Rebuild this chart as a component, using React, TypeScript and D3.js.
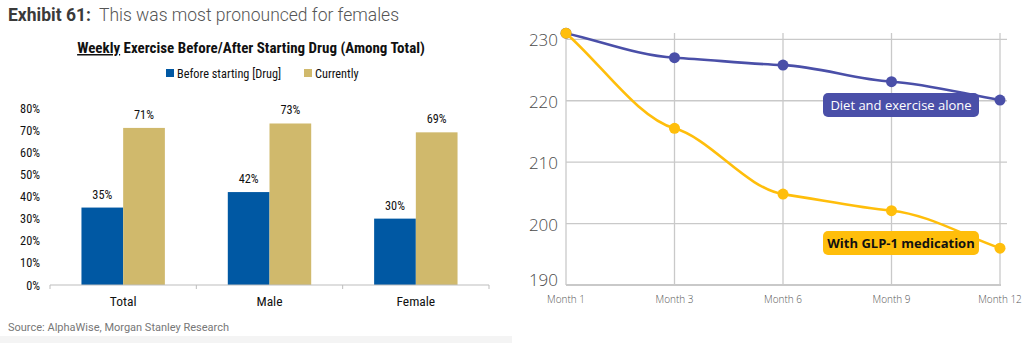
import React from "react";
import * as d3 from "d3";

const categories = ["Total", "Male", "Female"];
const seriesNames = ["Before starting [Drug]", "Currently"];
const beforeValues = [0.35, 0.42, 0.30];
const currentValues = [0.71, 0.73, 0.69];
const barTicks = [0, 0.1, 0.2, 0.3, 0.4, 0.5, 0.6, 0.7, 0.8];

const months = ["Month 1", "Month 3", "Month 6", "Month 9", "Month 12"];
const dietValues = [231, 227, 225.8, 223.1, 220.1];
const glpValues = [231, 215.5, 204.8, 202.1, 196];
const lineTicks = [190, 200, 210, 220, 230];

const BLUE = "#0058A3";
const GOLD = "#D0B96C";
const INDIGO = "#4A4FA8";
const AMBER = "#FFBE0B";
const condensed = "'Liberation Sans Narrow', 'Roboto Condensed', 'Arial Narrow', Roboto, sans-serif";

// Hermite spline with flattened interior tangents (smooth S-shaped segments)
function curveFlatSpline(context: any) {
  let xs: number[] = [];
  let ys: number[] = [];
  const f = 0.38;
  return {
    areaStart() {},
    areaEnd() {},
    lineStart() {
      xs = [];
      ys = [];
    },
    point(x: number, y: number) {
      xs.push(+x);
      ys.push(+y);
    },
    lineEnd() {
      const n = xs.length;
      if (!n) return;
      context.moveTo(xs[0], ys[0]);
      if (n === 1) return;
      const m: number[] = [];
      for (let i = 0; i < n; i++) {
        if (i === 0) m.push((ys[1] - ys[0]) / (xs[1] - xs[0]));
        else if (i === n - 1) m.push((ys[n - 1] - ys[n - 2]) / (xs[n - 1] - xs[n - 2]));
        else m.push((f * (ys[i + 1] - ys[i - 1])) / (xs[i + 1] - xs[i - 1]));
      }
      for (let i = 0; i < n - 1; i++) {
        const h = xs[i + 1] - xs[i];
        context.bezierCurveTo(
          xs[i] + h / 3,
          ys[i] + (m[i] * h) / 3,
          xs[i + 1] - h / 3,
          ys[i + 1] - (m[i + 1] * h) / 3,
          xs[i + 1],
          ys[i + 1]
        );
      }
    },
  };
}

export default function App() {
  // left bar chart
  const y = d3.scaleLinear().domain([0, 0.8]).range([285, 108]);
  const x0 = d3.scaleBand().domain(categories).range([50, 489]);
  const bw = x0.bandwidth();
  const x1 = d3.scaleBand().domain(seriesNames).range([bw * 0.215, bw * 0.785]);
  const pct = d3.format(".0%");
  const barData = categories.map((c, i) => ({ c, vals: [beforeValues[i], currentValues[i]] }));
  const colors = [BLUE, GOLD];

  // right line chart
  const xR = d3.scalePoint().domain(months).range([566, 1000]);
  const yR = d3.scaleLinear().domain([190, 230]).range([285, 39.3]);
  const line = d3
    .line<number>()
    .x((_, i) => xR(months[i])!)
    .y((d) => yR(d))
    .curve(curveFlatSpline as any);

  const gridColor = "#c9c9c9";

  return (
    <svg width={1031} height={343} style={{ position: "absolute", left: 0, top: 0, background: "#fff" }}>
      {/* bottom gray band of left panel */}
      <rect x={0} y={336} width={512} height={7} fill="#f4f4f4" />

      {/* Exhibit title */}
      <text x={8} y={21} fontFamily="Roboto, sans-serif" fontSize={17.5}>
        <tspan fontWeight={700} fill="#3a3a3a">Exhibit 61:</tspan>
        <tspan dx={8} fontWeight={300} fill="#555">This was most pronounced for females</tspan>
      </text>

      {/* Chart title */}
      <text x={251} y={53} textAnchor="middle" fontFamily={condensed} fontSize={15} fontWeight={700} fill="#111">
        <tspan textDecoration="underline">Weekly</tspan>
        <tspan> Exercise Before/After Starting Drug (Among Total)</tspan>
      </text>

      {/* Legend */}
      {seriesNames.map((s, i) => {
        const lx = i === 0 ? 166 : 304;
        return (
          <g key={s}>
            <rect x={lx} y={69} width={8} height={8} fill={colors[i]} />
            <text x={lx + 11} y={77.5} fontFamily={condensed} fontSize={12.3} fill="#111">
              {s}
            </text>
          </g>
        );
      })}

      {/* Y axis labels */}
      {barTicks.map((t) => (
        <text key={t} x={40} y={y(t) + 4.5} textAnchor="end" fontFamily={condensed} fontSize={12.3} fill="#111">
          {pct(t)}
        </text>
      ))}

      {/* Bars */}
      {barData.map((d) => (
        <g key={d.c} transform={`translate(${x0(d.c)},0)`}>
          {d.vals.map((v, j) => (
            <g key={j}>
              <rect
                x={x1(seriesNames[j])!}
                y={y(v)}
                width={x1.bandwidth()}
                height={y(0) - y(v)}
                fill={colors[j]}
              />
              <text
                x={x1(seriesNames[j])! + x1.bandwidth() / 2}
                y={y(v) - 9}
                textAnchor="middle"
                fontFamily={condensed}
                fontSize={12.3}
                fill="#111"
              >
                {pct(v)}
              </text>
            </g>
          ))}
          <text x={bw / 2} y={305.5} textAnchor="middle" fontFamily={condensed} fontSize={13.5} fill="#111">
            {d.c}
          </text>
        </g>
      ))}

      {/* X axis */}
      <line x1={50} x2={489} y1={285} y2={285} stroke="#bdbdbd" strokeWidth={1} />
      {[...categories.map((c) => x0(c)!), 489].map((tx, i) => (
        <line key={i} x1={tx} x2={tx} y1={285} y2={289} stroke="#bdbdbd" strokeWidth={1} />
      ))}

      {/* Source */}
      <text x={8} y={331} fontFamily="Roboto, sans-serif" fontSize={11} fill="#777">
        Source: AlphaWise, Morgan Stanley Research
      </text>

      {/* Right chart grid */}
      {lineTicks.slice(1).map((t) => (
        <line key={t} x1={566} x2={1007} y1={yR(t)} y2={yR(t)} stroke={gridColor} strokeWidth={1.3} />
      ))}
      {months.map((m) => (
        <line key={m} x1={xR(m)!} x2={xR(m)!} y1={33} y2={285} stroke={gridColor} strokeWidth={1.3} />
      ))}
      <line x1={566} x2={1001} y1={285} y2={285} stroke={gridColor} strokeWidth={1.8} />

      {lineTicks.map((t) => (
        <text
          key={t}
          x={558}
          y={yR(t) + (t === 190 ? 1 : 7)}
          textAnchor="end"
          fontFamily="'Open Sans', sans-serif"
          fontSize={17}
          fontWeight={300}
          fill="#4a4a4a"
        >
          {t}
        </text>
      ))}
      {months.map((m) => (
        <text key={m} x={xR(m)!} y={302.5} textAnchor="middle" fontFamily="'Open Sans', sans-serif" fontSize={10} fontWeight={300} fill="#555">
          {m}
        </text>
      ))}

      {/* Lines */}
      <path d={line(dietValues)!} fill="none" stroke={INDIGO} strokeWidth={2.6} />
      {dietValues.map((v, i) => (
        <circle key={i} cx={xR(months[i])!} cy={yR(v)} r={5.5} fill={INDIGO} />
      ))}
      <path d={line(glpValues)!} fill="none" stroke={AMBER} strokeWidth={2.6} />
      {glpValues.map((v, i) => (
        <circle key={i} cx={xR(months[i])!} cy={yR(v)} r={5.5} fill={AMBER} />
      ))}

      {/* Annotations */}
      <rect x={823} y={93} width={156} height={24} rx={5} fill={INDIGO} />
      <text x={901} y={109.5} textAnchor="middle" fontFamily="'Open Sans', sans-serif" fontSize={13} fill="#fff">
        Diet and exercise alone
      </text>
      <rect x={823} y={231} width={156} height={24} rx={5} fill={AMBER} />
      <text x={901} y={247.5} textAnchor="middle" fontFamily="'Open Sans', sans-serif" fontSize={13} fontWeight={700} fill="#111">
        With GLP-1 medication
      </text>
    </svg>
  );
}
